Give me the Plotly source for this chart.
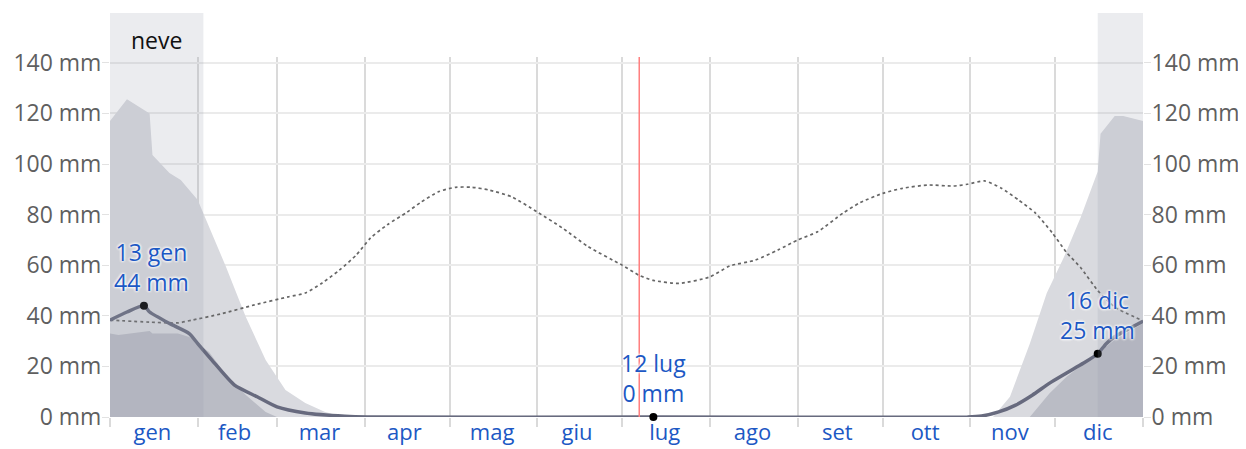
import plotly.graph_objects as go

# ---------------- data ----------------
mean_dates = ["2023-01-01", "2023-01-07", "2023-01-13", "2023-01-15", "2023-01-22", "2023-01-29",
              "2023-02-01", "2023-02-06", "2023-02-14", "2023-02-22", "2023-03-01", "2023-03-11",
              "2023-03-25", "2023-04-02", "2023-07-12", "2023-10-31", "2023-11-05", "2023-11-11",
              "2023-11-17", "2023-11-23", "2023-11-29", "2023-12-05", "2023-12-11", "2023-12-16",
              "2023-12-19", "2023-12-22", "2023-12-31 23:59"]
mean_snow = [38.3, 41.5, 44, 41.5, 37, 33,
             29, 22.5, 12.6, 8, 4, 1.6,
             0.3, 0, 0, 0, 0.4, 2,
             4.7, 8.7, 13.4, 17.4, 21.3, 25,
             29, 31.7, 37.8]

p75_dates = ["2023-01-01", "2023-01-04", "2023-01-15", "2023-01-16", "2023-01-25", "2023-01-29",
             "2023-02-01", "2023-02-05", "2023-02-11", "2023-02-18", "2023-02-25", "2023-03-01",
             "2023-11-22", "2023-11-29", "2023-12-05", "2023-12-16", "2023-12-22", "2023-12-31 23:59"]
p75_snow = [33, 32.4, 34, 33, 33, 31.6,
            29, 25.7, 16.6, 8.7, 2, 0,
            0, 9.4, 15.9, 25.2, 30.4, 37]

p90_dates = ["2023-01-01", "2023-01-07", "2023-01-15", "2023-01-16", "2023-01-22", "2023-01-26",
             "2023-02-01", "2023-02-06", "2023-02-11", "2023-02-18", "2023-02-25", "2023-03-04",
             "2023-03-11", "2023-03-18", "2023-03-25", "2023-11-09", "2023-11-15", "2023-11-22",
             "2023-11-28", "2023-12-04", "2023-12-10", "2023-12-16", "2023-12-17", "2023-12-22",
             "2023-12-25", "2023-12-31 23:59"]
p90_snow = [117, 125.6, 120, 103.6, 96.4, 93.7,
            85.8, 72.7, 59.3, 39.5, 22.5, 10.7,
            5.5, 2, 0, 0, 8, 29,
            49, 63, 79, 97, 112, 119,
            119, 117]

rain_dates = ["2023-01-01", "2023-01-15", "2023-01-25", "2023-01-30", "2023-02-09", "2023-02-21",
              "2023-03-05", "2023-03-11", "2023-03-17", "2023-03-23", "2023-03-29", "2023-04-03",
              "2023-04-09", "2023-04-16", "2023-04-21", "2023-04-27", "2023-05-03", "2023-05-09",
              "2023-05-15", "2023-05-23", "2023-06-01", "2023-06-10", "2023-06-19", "2023-07-01",
              "2023-07-07", "2023-07-12", "2023-07-21", "2023-08-01", "2023-08-08", "2023-08-17",
              "2023-08-25", "2023-09-01", "2023-09-08", "2023-09-17", "2023-09-23", "2023-10-01",
              "2023-10-08", "2023-10-17", "2023-10-26", "2023-10-31", "2023-11-06", "2023-11-12",
              "2023-11-18", "2023-11-24", "2023-11-30", "2023-12-05", "2023-12-10", "2023-12-16",
              "2023-12-22", "2023-12-31 23:59"]
rain_mm = [38.3, 37.5, 37.2, 38.3, 40.7, 44.3,
           47.5, 49, 53, 58, 64, 70.7,
           76, 81, 85, 89, 90.8, 90.8,
           89.7, 87, 81, 74.6, 67.3, 60,
           56, 54, 52.8, 55.4, 59.7, 62,
           66, 70, 73.2, 80.6, 84.7, 88.4,
           90.4, 91.7, 91.3, 92, 93.3, 90.4,
           85.8, 80.6, 72.7, 65, 59, 50,
           43.5, 38]

highlight_dates = ["2023-01-13", "2023-07-12", "2023-12-16"]
highlight_vals = [44, 0, 25]
highlight_labels = ["13 gen<br>44 mm", "12 lug<br>0 mm", "16 dic<br>25 mm"]
highlight_xshift = [8, 0, 0]

month_mid = ["2023-01-16", "2023-02-14", "2023-03-16", "2023-04-15", "2023-05-16", "2023-06-15",
             "2023-07-16", "2023-08-16", "2023-09-15", "2023-10-16", "2023-11-15", "2023-12-16"]
month_labels = ["gen", "feb", "mar", "apr", "mag", "giu", "lug", "ago", "set", "ott", "nov", "dic"]

y_ticks = [0, 20, 40, 60, 80, 100, 120, 140]
y_tick_labels = ["0 mm", "20 mm", "40 mm", "60 mm", "80 mm", "100 mm", "120 mm", "140 mm"]

snow_season = [("2023-01-01", "2023-02-03"), ("2023-12-16", "2024-01-01")]
season_label = "neve"
season_label_date = "2023-01-17 12:00"
today = "2023-07-07"

x_range = ["2023-01-01", "2024-01-01"]
y_range = [0, 142.3]

# ---------------- figure ----------------
FONT = "Open Sans, Noto Sans, sans-serif"
BLUE = "#1c58c4"

fig = go.Figure()

fig.add_trace(go.Scatter(x=p90_dates, y=p90_snow, mode="lines", line=dict(width=0),
                         fill="tozeroy", fillcolor="#d9dadf", hoverinfo="skip"))
fig.add_trace(go.Scatter(x=p75_dates, y=p75_snow, mode="lines", line=dict(width=0),
                         fill="tozeroy", fillcolor="#babcc5", hoverinfo="skip"))
fig.add_trace(go.Scatter(x=rain_dates, y=rain_mm, mode="lines",
                         line=dict(color="#666666", width=1.7, dash="dot", shape="spline", smoothing=0.6)))
fig.add_trace(go.Scatter(x=mean_dates, y=mean_snow, mode="lines",
                         line=dict(color="#676a7e", width=3.5, shape="spline", smoothing=0.6)))
fig.add_trace(go.Scatter(x=highlight_dates, y=highlight_vals, mode="markers",
                         marker=dict(color="black", size=8), cliponaxis=False))
# invisible trace for the right axis
fig.add_trace(go.Scatter(x=[x_range[0]], y=[0], yaxis="y2", mode="markers",
                         marker=dict(opacity=0), hoverinfo="skip"))

# snow season shading (drawn above with transparency)
for s, e in snow_season:
    fig.add_shape(type="rect", xref="x", yref="paper", x0=s, x1=e, y0=0, y1=1.122,
                  fillcolor="rgba(150,153,170,0.19)", line=dict(width=0), layer="above")

# today line
fig.add_shape(type="line", xref="x", yref="paper", x0=today, x1=today, y0=0, y1=1,
              line=dict(color="#ff7f7f", width=1.5), layer="above")

# season label
fig.add_annotation(x=season_label_date, y=1.047, xref="x", yref="paper", text=season_label,
                   showarrow=False, yanchor="middle",
                   font=dict(family=FONT, size=23, color="#111111"))

# highlight labels
for d, v, t, xs in zip(highlight_dates, highlight_vals, highlight_labels, highlight_xshift):
    fig.add_annotation(x=d, y=v, xref="x", yref="y", text=t, showarrow=False,
                       yanchor="bottom", yshift=6, xshift=xs,
                       font=dict(family=FONT, size=23, color=BLUE,
                                 shadow="0px 0px 3px white, 0px 0px 3px white, 0px 0px 3px white"))

axis_common = dict(range=y_range, tickvals=y_ticks, ticktext=y_tick_labels, ticks="outside",
                   ticklen=7, tickcolor="#e2e2e2", tickfont=dict(family=FONT, size=23, color="#5f5f5f"),
                   ticklabelstandoff=-4,
                   showline=False, zeroline=False, fixedrange=True)

fig.update_layout(
    width=1238, height=441,
    margin=dict(l=102, r=103, t=49, b=32, autoexpand=False),
    paper_bgcolor="white", plot_bgcolor="white",
    showlegend=False,
    xaxis=dict(range=x_range, type="date", tickvals=month_mid, ticktext=month_labels,
               ticks="", showgrid=False, zeroline=False, showline=False,
               tickfont=dict(family=FONT, size=22, color=BLUE), ticklabelstandoff=0,
               minor=dict(dtick="M1", tick0="2023-01-01", showgrid=True, gridcolor="#dadada",
                          gridwidth=1.5, ticks="outside", ticklen=9, tickcolor="#dadada", tickwidth=1.5)),
    yaxis=dict(side="left", showgrid=True, gridcolor="#ebebeb", gridwidth=1.5, **axis_common),
    yaxis2=dict(side="right", overlaying="y", showgrid=False, **axis_common),
)

fig.write_html("out.html")
